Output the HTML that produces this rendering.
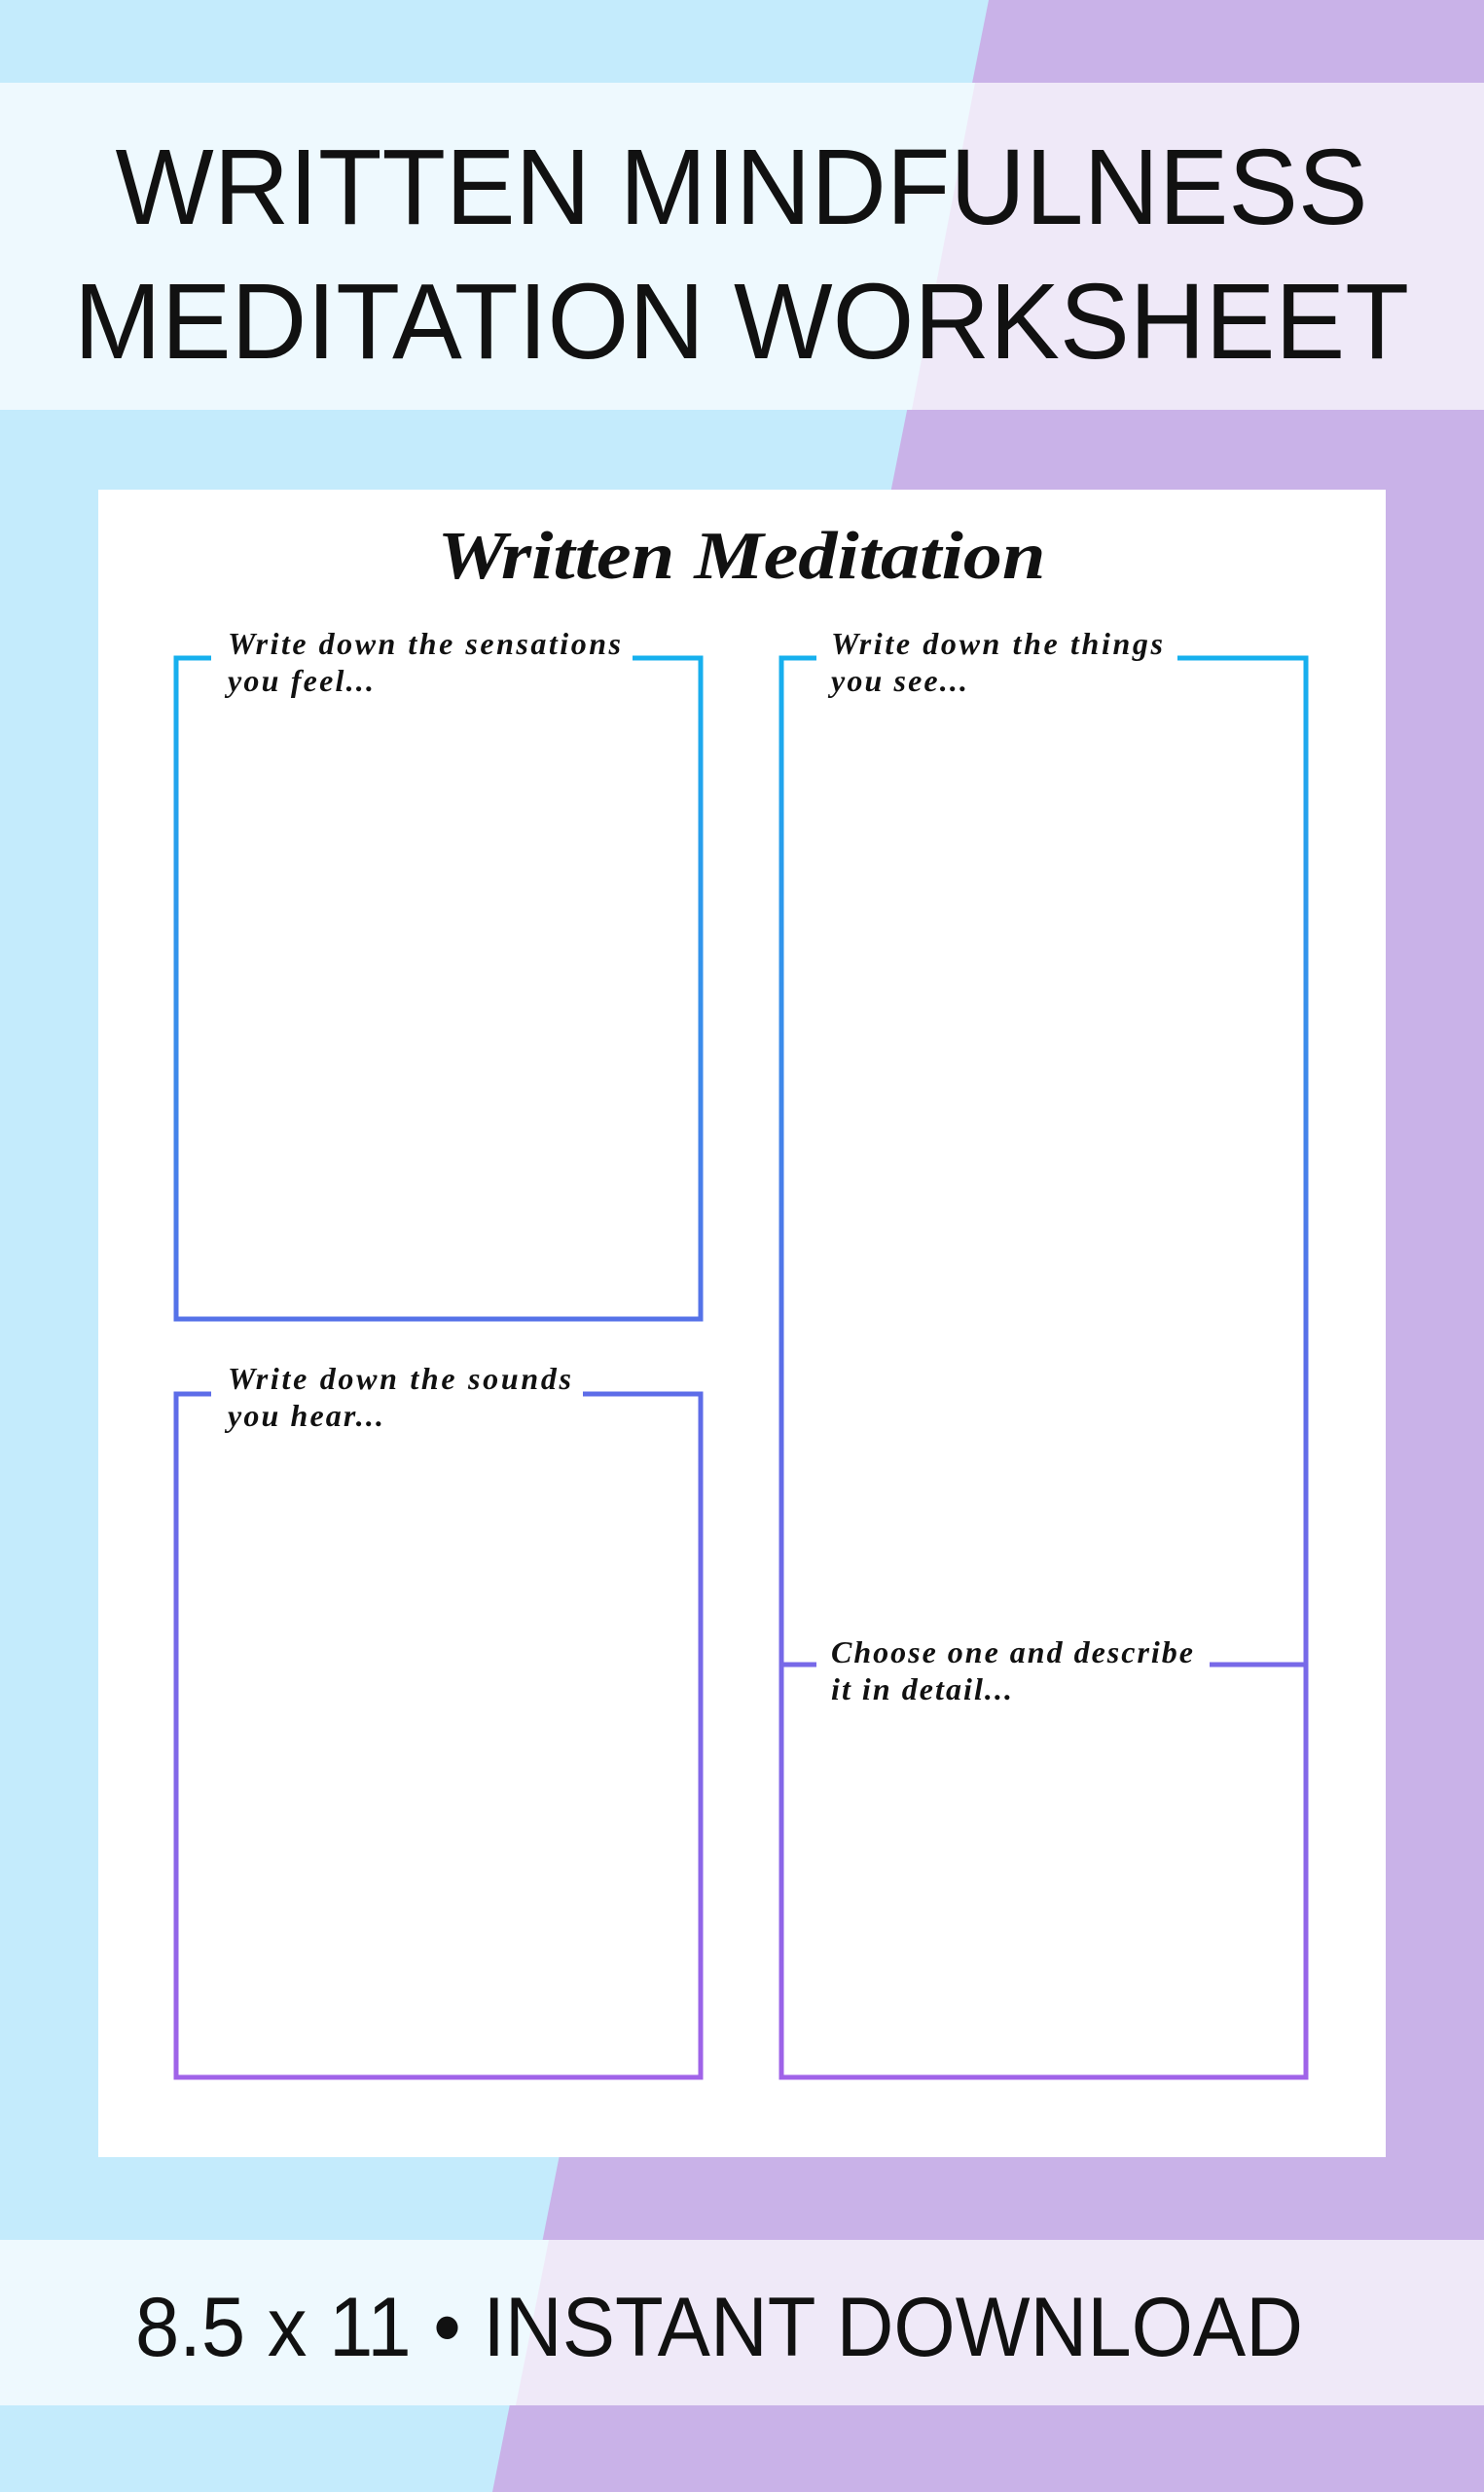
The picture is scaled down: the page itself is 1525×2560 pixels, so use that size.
<!DOCTYPE html>
<html><head><meta charset="utf-8"><style>
html,body{margin:0;padding:0;width:1525px;height:2560px;overflow:hidden}
svg{display:block}
</style></head><body>
<svg width="1525" height="2560" viewBox="0 0 1525 2560" xmlns="http://www.w3.org/2000/svg">
<defs>
<linearGradient id="g" gradientUnits="userSpaceOnUse" x1="0" y1="676" x2="0" y2="2134">
<stop offset="0" stop-color="#16b0ee"/><stop offset="0.5" stop-color="#5a6de8"/><stop offset="1" stop-color="#a063e8"/>
</linearGradient>
</defs>
<rect width="1525" height="2560" fill="#c4ebfc"/>
<polygon points="1016,0 1525,0 1525,2560 506,2560" fill="#c9b2e8"/>
<rect x="0" y="85" width="1525" height="336" fill="#eef9fe"/>
<polygon points="1002,85 1525,85 1525,421 937,421" fill="#efe9f8"/>
<rect x="0" y="2301" width="1525" height="170" fill="#eef9fe"/>
<polygon points="564,2301 1525,2301 1525,2471 530,2471" fill="#efe9f8"/>
<g font-family="Liberation Sans, sans-serif" fill="#111" text-anchor="middle">
<text x="762" y="230" font-size="110" textLength="1287" lengthAdjust="spacingAndGlyphs">WRITTEN MINDFULNESS</text>
<text x="762" y="368" font-size="110" textLength="1372" lengthAdjust="spacingAndGlyphs">MEDITATION WORKSHEET</text>
<text x="739" y="2420" font-size="86" textLength="1200" lengthAdjust="spacingAndGlyphs">8.5 x 11 • INSTANT DOWNLOAD</text>
</g>
<rect x="101" y="503" width="1323" height="1713" fill="#fff"/>
<text x="762" y="594" font-family="Liberation Serif, serif" font-style="italic" font-weight="bold" font-size="70" text-anchor="middle" fill="#111" textLength="625" lengthAdjust="spacingAndGlyphs">Written Meditation</text>
<g fill="none" stroke="url(#g)" stroke-width="5">
<path d="M217 676 H181 V1355 H720 V676 H650"/>
<path d="M217 1432 H181 V2134 H720 V1432 H599"/>
<path d="M839 676 H803 V2134 H1342 V676 H1210"/>
<path d="M803 1710 H839 M1243 1710 H1342"/>
</g>
<g font-family="Liberation Serif, serif" font-style="italic" font-weight="bold" font-size="32" fill="#111" lengthAdjust="spacingAndGlyphs">
<text x="234" y="672" textLength="404">Write down the sensations</text>
<text x="234" y="710" textLength="150">you feel...</text>
<text x="854" y="672" textLength="341">Write down the things</text>
<text x="854" y="710" textLength="140">you see...</text>
<text x="234" y="1427" textLength="353">Write down the sounds</text>
<text x="234" y="1465" textLength="160">you hear...</text>
<text x="854" y="1708" textLength="372">Choose one and describe</text>
<text x="854" y="1746" textLength="186">it in detail...</text>
</g>
</svg>
</body></html>
